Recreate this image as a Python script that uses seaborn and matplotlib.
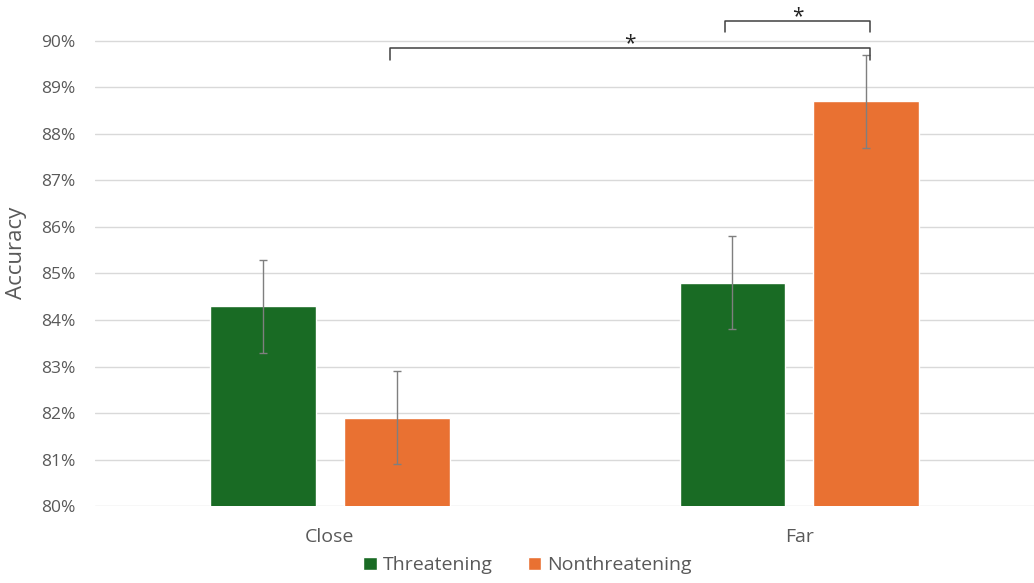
import matplotlib
matplotlib.use("Agg")
import matplotlib.pyplot as plt
import seaborn as sns
import numpy as np
import pandas as pd
from matplotlib.ticker import PercentFormatter

# data
distances = ["Close", "Far"]
conditions = ["Threatening", "Nonthreatening"]
accuracy_threat = [84.3, 84.8]
accuracy_nonthreat = [81.9, 88.7]
err_threat = [1.0, 1.0]
err_nonthreat = [1.0, 1.0]

# significance brackets: (bar index a, bar index b, line height, leg bottom)
brackets = [(1, 3, 89.85, 89.59), (2, 3, 90.43, 90.19)]
bracket_labels = ["*", "*"]

colors = ["#196B24", "#E97132"]
grey = "#595959"

df = pd.DataFrame({
    "Distance": distances * 2,
    "Condition": [conditions[0]] * 2 + [conditions[1]] * 2,
    "Accuracy": accuracy_threat + accuracy_nonthreat,
    "err": err_threat + err_nonthreat,
})

sns.set_style("white")
plt.rcParams["font.family"] = ["Open Sans", "DejaVu Sans"]

fig, ax = plt.subplots(figsize=(10.34, 5.83), dpi=100)
fig.subplots_adjust(left=0.092, right=1.0, bottom=0.132, top=1.0)

sns.barplot(data=df, x="Distance", y="Accuracy", hue="Condition",
            palette=colors, width=0.57, gap=0.21, errorbar=None,
            saturation=1, ax=ax, zorder=3)

# bar centres, in order: close-thr, far-thr, close-non, far-non
patches = [p for p in ax.patches if p.get_height() > 0][:4]
centres = [p.get_x() + p.get_width() / 2 for p in patches]
heights = [p.get_height() for p in patches]
errs = err_threat + err_nonthreat
ax.errorbar(centres, heights, yerr=errs, fmt="none", ecolor="#7f7f7f",
            elinewidth=1, capsize=3, capthick=1, zorder=4)

# reorder to close-thr, close-non, far-thr, far-non
order = [centres[0], centres[2], centres[1], centres[3]]
for (a, b, y, leg), lab in zip(brackets, bracket_labels):
    xa, xb = order[a] - 0.015, order[b] + 0.008
    ax.plot([xa, xa, xb, xb], [leg, y, y, leg], color="#404040", lw=1.1,
            clip_on=False, zorder=5)
    ax.text((xa + xb) / 2, y - 0.13, lab, ha="center", va="bottom",
            fontsize=15, color="#222222")

ax.set_ylim(80, 90.88)
ax.set_yticks(np.arange(80, 91, 1))
ax.yaxis.set_major_formatter(PercentFormatter(decimals=0))
ax.set_xlim(-0.5, 1.5)
ax.grid(axis="y", color="#d9d9d9", lw=1, zorder=0)
ax.set_axisbelow(True)
sns.despine(ax=ax, left=True, bottom=True, top=True, right=True)

ax.set_xlabel("")
ax.set_ylabel("Accuracy", fontsize=16, color=grey, labelpad=10)
ax.tick_params(axis="y", labelsize=12.5, colors=grey, length=0, pad=14)
ax.tick_params(axis="x", labelsize=14, colors=grey, length=0, pad=16)

ax.legend_.remove()
handles, labels = ax.get_legend_handles_labels()
fig.legend(handles, labels, loc="lower center", bbox_to_anchor=(0.51, -0.015),
           ncol=2, frameon=False, fontsize=14, handlelength=0.7,
           handleheight=0.7, handletextpad=0.3, columnspacing=1.8,
           labelcolor=grey)

fig.savefig("out.png", dpi=100)
